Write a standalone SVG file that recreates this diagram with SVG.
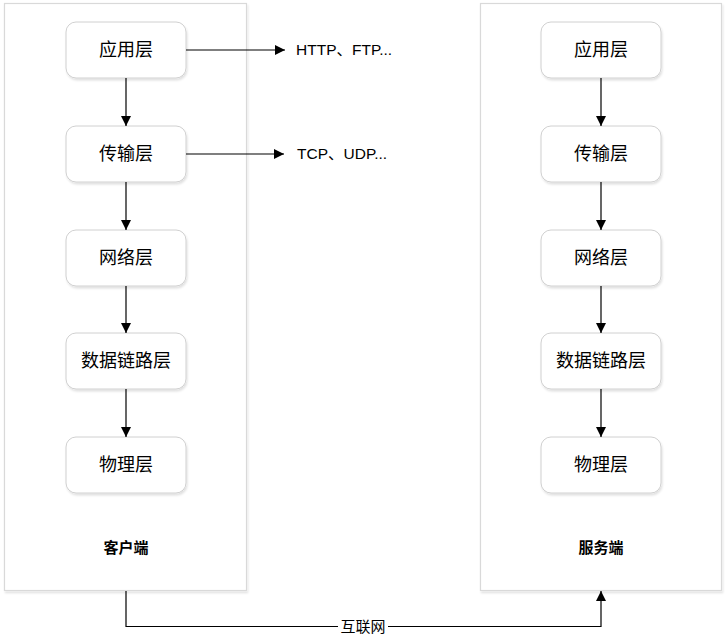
<svg xmlns="http://www.w3.org/2000/svg" width="727" height="642" viewBox="0 0 727 642">
  <defs>
    <marker id="arrow" viewBox="0 0 10 10" refX="10" refY="5" markerWidth="10" markerHeight="10" markerUnits="userSpaceOnUse" orient="auto">
      <path d="M0,0 L10,5 L0,10 Z" fill="#000"/>
    </marker>
    <filter id="shadow" x="-10%" y="-10%" width="120%" height="120%">
      <feDropShadow dx="1" dy="2" stdDeviation="1.2" flood-color="#000" flood-opacity="0.12"/>
    </filter>
  </defs>
  <style>
    .panel { fill: #fff; stroke: #d9d9d9; stroke-width: 1.2; filter: url(#shadow); }
    .layer { fill: #fff; stroke: #d0d0d0; stroke-width: 1; filter: url(#shadow); }
    .lt { font-family: "Noto Sans CJK SC", "Liberation Sans", sans-serif; font-size: 18px; fill: #000; text-anchor: middle; dominant-baseline: central; }
    .title { font-family: "Noto Sans CJK SC", "Liberation Sans", sans-serif; font-size: 15px; font-weight: bold; fill: #000; text-anchor: middle; dominant-baseline: central; }
    .note { font-family: "Liberation Sans", "Noto Sans CJK SC", sans-serif; font-size: 15.5px; fill: #000; dominant-baseline: central; }
    .edge { fill: none; stroke: #000; stroke-width: 1.2; }
    .elabel { font-family: "Noto Sans CJK SC", "Liberation Sans", sans-serif; font-size: 15px; fill: #000; text-anchor: middle; dominant-baseline: central; }
  </style>
  <rect width="727" height="642" fill="#fff"/>

  <!-- client side -->
  <g id="client">
    <rect class="panel" x="4.5" y="3.5" width="242" height="587"/>
    <text class="title" x="126" y="546">客户端</text>
  </g>
  <g id="c-app"><rect class="layer" x="66" y="22" width="120" height="56" rx="10"/><text class="lt" x="126" y="48">应用层</text></g>
  <g id="c-transport"><rect class="layer" x="66" y="126" width="120" height="56" rx="10"/><text class="lt" x="126" y="152">传输层</text></g>
  <g id="c-network"><rect class="layer" x="66" y="230" width="120" height="56" rx="10"/><text class="lt" x="126" y="256">网络层</text></g>
  <g id="c-link"><rect class="layer" x="66" y="333" width="120" height="56" rx="10"/><text class="lt" x="126" y="359">数据链路层</text></g>
  <g id="c-phys"><rect class="layer" x="66" y="437" width="120" height="56" rx="10"/><text class="lt" x="126" y="463">物理层</text></g>

  <!-- server side -->
  <g id="server">
    <rect class="panel" x="480.5" y="3.5" width="241" height="587"/>
    <text class="title" x="601" y="546">服务端</text>
  </g>
  <g id="s-app"><rect class="layer" x="541" y="22" width="120" height="56" rx="10"/><text class="lt" x="601" y="48">应用层</text></g>
  <g id="s-transport"><rect class="layer" x="541" y="126" width="120" height="56" rx="10"/><text class="lt" x="601" y="152">传输层</text></g>
  <g id="s-network"><rect class="layer" x="541" y="230" width="120" height="56" rx="10"/><text class="lt" x="601" y="256">网络层</text></g>
  <g id="s-link"><rect class="layer" x="541" y="333" width="120" height="56" rx="10"/><text class="lt" x="601" y="359">数据链路层</text></g>
  <g id="s-phys"><rect class="layer" x="541" y="437" width="120" height="56" rx="10"/><text class="lt" x="601" y="463">物理层</text></g>

  <!-- protocol notes -->
  <g id="note-app"><text class="note" x="296" y="49">HTTP、FTP...</text></g>
  <g id="note-transport"><text class="note" x="297" y="153">TCP、UDP...</text></g>

  <g id="connectors">
    <path class="edge" d="M126,78 V126" marker-end="url(#arrow)"/>
    <path class="edge" d="M126,182 V230" marker-end="url(#arrow)"/>
    <path class="edge" d="M126,286 V333" marker-end="url(#arrow)"/>
    <path class="edge" d="M126,389 V437" marker-end="url(#arrow)"/>
    <path class="edge" d="M601,78 V126" marker-end="url(#arrow)"/>
    <path class="edge" d="M601,182 V230" marker-end="url(#arrow)"/>
    <path class="edge" d="M601,286 V333" marker-end="url(#arrow)"/>
    <path class="edge" d="M601,389 V437" marker-end="url(#arrow)"/>
    <path class="edge" d="M186,50 H285" marker-end="url(#arrow)"/>
    <path class="edge" d="M186,154 H284" marker-end="url(#arrow)"/>
    <path class="edge" d="M126,591 V626.5 H601 V591" marker-end="url(#arrow)"/>
    <rect x="338" y="617" width="50" height="19" fill="#fff"/>
    <text class="elabel" x="363" y="625">互联网</text>
  </g>
</svg>
